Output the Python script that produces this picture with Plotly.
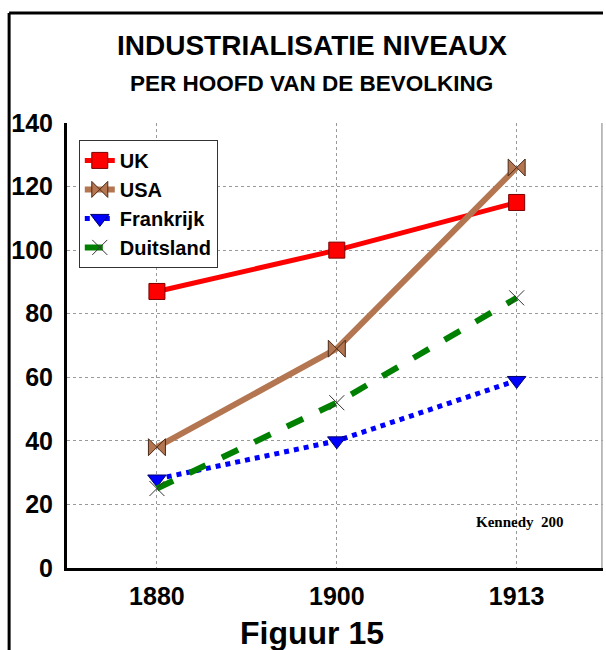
import plotly.graph_objects as go

years = ["1880", "1900", "1913"]
uk = [87, 100, 115]
usa = [38, 69, 126]
frankrijk = [28, 40, 59]
duitsland = [25, 52, 85]
y_ticks = [0, 20, 40, 60, 80, 100, 120, 140]

fig = go.Figure()
fig.add_trace(go.Scatter(x=years, y=uk, name="UK", mode="lines+markers",
    line=dict(color="#ff0000", width=5),
    marker=dict(symbol="square", size=16, color="#ff0000", line=dict(color="#7a0000", width=1))))
fig.add_trace(go.Scatter(x=years, y=usa, name="USA", mode="lines+markers",
    line=dict(color="#b37650", width=6),
    marker=dict(symbol="bowtie", size=17, color="#b37650", line=dict(color="#4a2a18", width=1))))
fig.add_trace(go.Scatter(x=years, y=frankrijk, name="Frankrijk", mode="lines+markers",
    line=dict(color="#0000ff", width=5, dash="dot"),
    marker=dict(symbol="triangle-down", size=16, color="#0000ff", line=dict(color="#00006a", width=1))))
fig.add_trace(go.Scatter(x=years, y=duitsland, name="Duitsland", mode="lines+markers",
    line=dict(color="#008000", width=6, dash="dash"),
    marker=dict(symbol="x-thin", size=15, color="#333333", line=dict(color="#333333", width=1))))

bold = "Liberation Sans, Arial, sans-serif"
fig.update_layout(
    width=606, height=650,
    margin=dict(l=67, r=3, t=123, b=82),
    paper_bgcolor="white", plot_bgcolor="white",
    font=dict(family=bold, color="black"),
    showlegend=True,
    legend=dict(x=0.022, y=0.962, xanchor="left", yanchor="top",
                bgcolor="white", bordercolor="#333333", borderwidth=1,
                font=dict(size=20, family=bold, weight="bold"),
                itemwidth=30, tracegroupgap=0),
    xaxis=dict(type="category", range=[-0.5, 2.48], showgrid=True,
               gridcolor="#999999", griddash="dot", gridwidth=1,
               showline=True, linecolor="black", linewidth=3,
               ticks="", tickfont=dict(size=25, family=bold, weight="bold"),
               ticklabelstandoff=4, zeroline=False),
    yaxis=dict(range=[0, 140], tickvals=y_ticks, showgrid=True,
               gridcolor="#999999", griddash="dot", gridwidth=1,
               showline=True, linecolor="black", linewidth=3,
               ticks="", tickfont=dict(size=25, family=bold, weight="bold"),
               ticklabelstandoff=6, zeroline=False),
    shapes=[
        dict(type="line", xref="paper", yref="paper", x0=0.998, x1=0.998, y0=0, y1=1,
             line=dict(color="#a8a8a8", width=1.5)),
        dict(type="line", xref="paper", yref="paper", x0=-0.108, x1=1.0,
             y0=1.247, y1=1.247, line=dict(color="black", width=3)),
        dict(type="line", xref="paper", yref="paper", x0=-0.108, x1=-0.108,
             y0=1.247, y1=-0.2, line=dict(color="black", width=3)),
    ],
    annotations=[
        dict(text="INDUSTRIALISATIE NIVEAUX", xref="paper", yref="paper",
             x=0.457, y=1.175, xanchor="center", yanchor="middle", showarrow=False,
             font=dict(size=28, family=bold, weight="bold")),
        dict(text="PER HOOFD VAN DE BEVOLKING", xref="paper", yref="paper",
             x=0.457, y=1.088, xanchor="center", yanchor="middle", showarrow=False,
             font=dict(size=22.5, family=bold, weight="bold")),
        dict(text="Figuur 15", xref="paper", yref="paper",
             x=0.457, y=-0.146, xanchor="center", yanchor="middle", showarrow=False,
             font=dict(size=32, family=bold, weight="bold")),
        dict(text="Kennedy  200", xref="x", yref="y",
             x=2.02, y=14.5, xanchor="center", yanchor="middle", showarrow=False,
             font=dict(size=15, family="Liberation Serif, Times New Roman, serif", weight="bold")),
    ],
)

fig.write_html("out.html", config={"displayModeBar": False},
               post_script="document.body.style.margin='0';document.body.style.overflow='hidden';")
